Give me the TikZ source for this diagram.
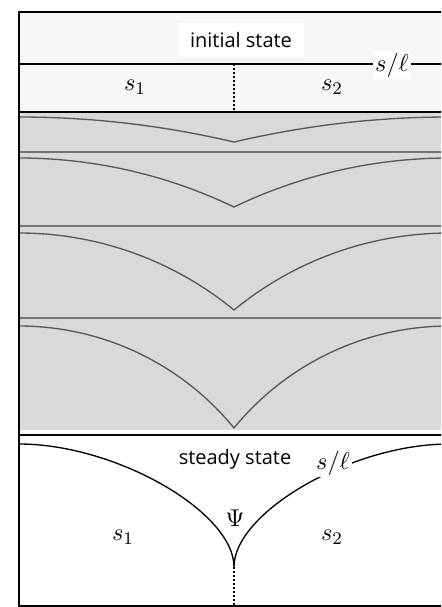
\documentclass[tikz,border=0pt]{standalone}
\usepackage{fontspec}
\setsansfont{Open Sans}

\tikzset{
  frameline/.style={line width=0.9pt, black},
  panelline/.style={line width=0.6pt, black!55},
  frontline/.style={line width=0.6pt, black!65},
  dotline/.style={line width=0.9pt, dash pattern=on 0.9pt off 0.9pt},
  statelabel/.style={font=\sffamily\fontsize{9}{11}\selectfont},
  phaselabel/.style={font=\fontsize{11}{13}\selectfont},
  ratiolabel/.style={font=\fontsize{11}{13}\selectfont, fill=white, inner sep=1pt}
}

\begin{document}
\begin{tikzpicture}[x=0.45pt, y=-0.45pt]
  \useasboundingbox (0,0) rectangle (441,607);
  \clip (0,0) rectangle (441,607);

  % Initial state
  \fill[black!3] (19,12) rectangle (449,112);
  \node[statelabel, fill=white, minimum width=57pt, minimum height=15pt] (initial) at (241,40) {initial state};
  \draw[frameline] (19,64) -- (449,64);
  \node[ratiolabel] (ratiotop) at (392,65) {$s/\ell$};
  \node[phaselabel] (sonetop) at (135,87) {$s_1$};
  \node[phaselabel] (stwotop) at (332,87) {$s_2$};
  \draw[dotline] (234,64) -- (234,112);

  % Growing fronts
  \fill[black!15] (19,112) rectangle (449,430);
  \foreach \ytop/\ystart/\ycusp in {112/117/142, 152/158/207, 226/233/310, 318/326/428} {
    \draw[panelline] (19,\ytop) -- (449,\ytop);
    \pgfmathsetmacro\dep{\ycusp-\ystart}
    \pgfmathsetmacro\rad{215*(215/\dep)/2+\dep/2}
    \pgfmathsetmacro\ang{asin(215/\rad)}
    \draw[frontline] (19,\ystart) arc[start angle=-90, end angle=-90+\ang, radius=\rad]
      arc[start angle=-90-\ang, end angle=-90, radius=\rad];
  }
  \draw[frameline] (19,112) -- (449,112);

  % Steady state
  \draw[frameline] (19,434.5) -- (449,434.5);
  \draw[frontline, black] (19,444) .. controls (116,444) and (234,512) .. (234,567)
    .. controls (234,512) and (352,444) .. (449,444);
  \node[statelabel] (steady) at (235,459) {steady state};
  \node[ratiolabel] (ratiobot) at (333,463) {$s/\ell$};
  \node[phaselabel] (psi) at (235,518) {$\Psi$};
  \node[phaselabel] (sonebot) at (123,537) {$s_1$};
  \node[phaselabel] (stwobot) at (332,537) {$s_2$};
  \draw[dotline] (234,567) -- (234,606);

  % Frame
  \draw[frameline] (19,12) rectangle (449,606);
\end{tikzpicture}
\end{document}
